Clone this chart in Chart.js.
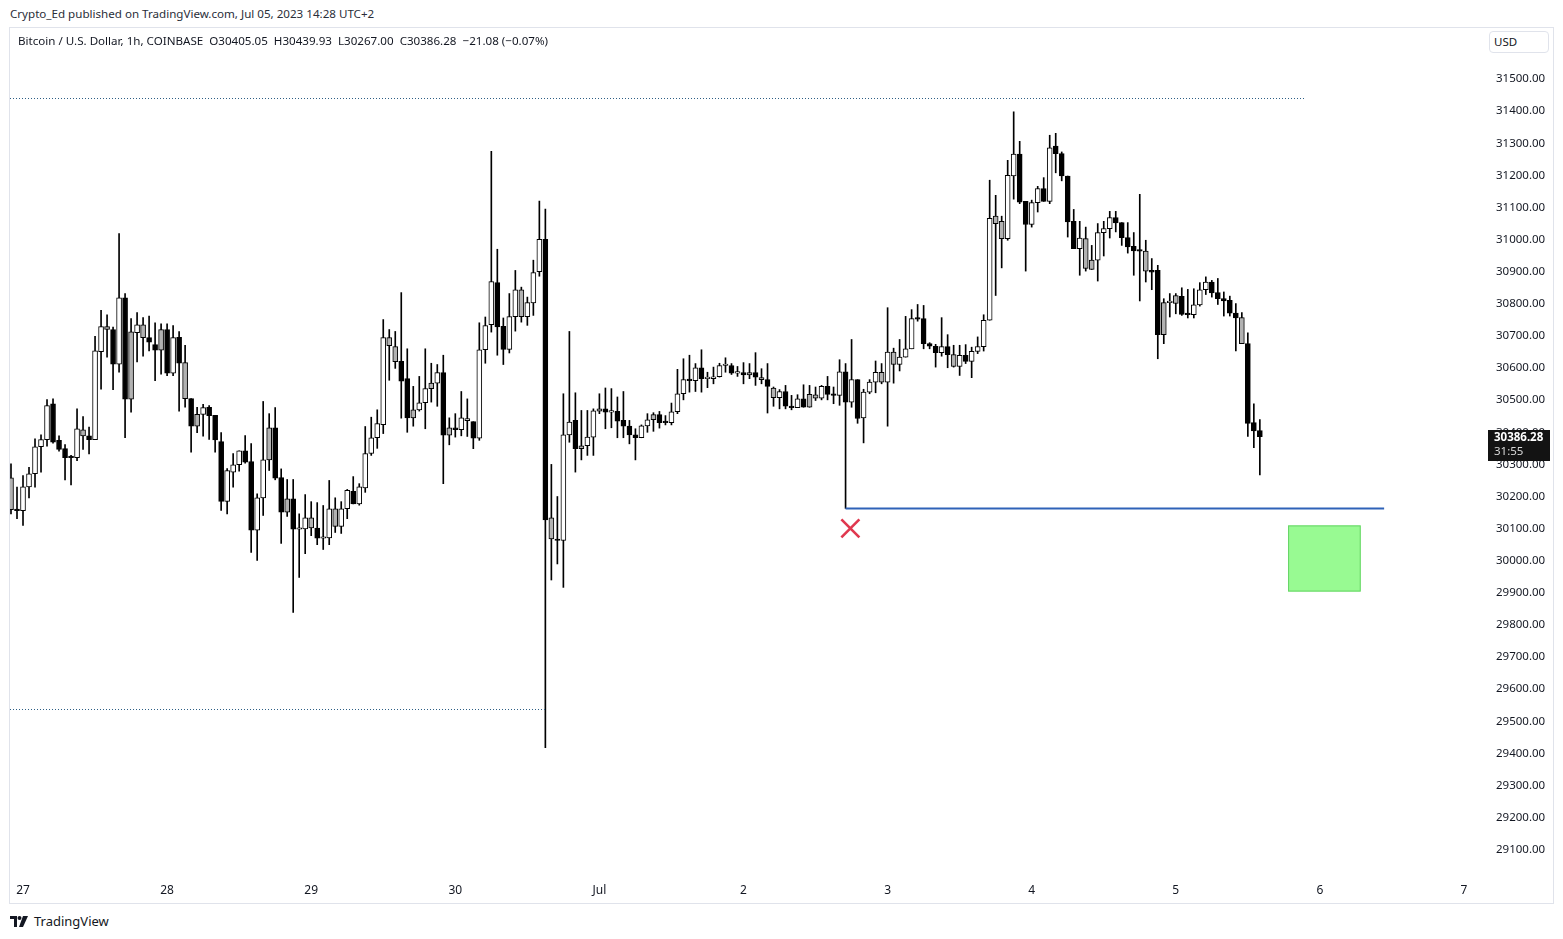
<!DOCTYPE html>
<html>
<head>
<meta charset="utf-8">
<title>BTCUSD 1h</title>
<script src="https://cdn.jsdelivr.net/npm/chart.js@4.4.0/dist/chart.umd.min.js"></script>
<style>
  html, body { margin: 0; padding: 0; background: #fff; }
  body { width: 1563px; height: 939px; position: relative; overflow: hidden; font-family: "Noto Sans", sans-serif; color: #131722; }
  #published { position: absolute; left: 10px; top: 6px; font-size: 11.6px; color: #2a2e39; white-space: nowrap; }
  #frame { position: absolute; left: 9px; top: 27px; width: 1545px; height: 877px; border: 1px solid #e0e3eb; box-sizing: border-box; }
  #chartBox { position: absolute; left: 10px; top: 28px; width: 1543px; height: 875px; }
  #legend { position: absolute; left: 18px; top: 33px; font-size: 11.6px; white-space: pre; color: #131722; }
  #usd { position: absolute; left: 1489px; top: 31px; width: 60px; height: 22px; border: 1px solid #e0e3eb; border-radius: 4px; box-sizing: border-box; font-size: 11.5px; line-height: 20px; padding-left: 4px; background: #fff; }
  #brand { position: absolute; left: 10px; top: 911px; height: 20px; display: flex; align-items: center; font-size: 13px; color: #131722; }
  #brand svg { margin-right: 5px; }
</style>
</head>
<body>
<div id="published">Crypto_Ed published on TradingView.com, Jul 05, 2023 14:28 UTC+2</div>
<div id="frame"></div>
<div id="chartBox"><canvas id="btcChart"></canvas></div>
<div id="legend">Bitcoin / U.S. Dollar, 1h, COINBASE  O30405.05  H30439.93  L30267.00  C30386.28  −21.08 (−0.07%)</div>
<div id="usd">USD</div>
<div id="brand">
  <svg width="19" height="11" viewBox="0 0 19 11"><path d="M0 0h7v11H4V3H0z" fill="#131722"/><circle cx="9.5" cy="2" r="2" fill="#131722"/><path d="M13 0h5l-5 11H9z" fill="#131722"/></svg>
  TradingView
</div>
<script>
// hourly candles, hour 0 = Jun 27 00:00
const firstHour = -2;
const open = [
  30258, 30159, 30156, 30230, 30271, 30355, 30377, 30489, 30375, 30349, 30322, 30321, 30408, 30389,
  30377, 30651, 30729, 30720, 30612, 30819, 30503, 30710, 30735, 30695, 30673, 30656,
  30720, 30584, 30696, 30617, 30505, 30419, 30456, 30478, 30453, 30371, 30185, 30276, 30299, 30342,
  30309, 30095, 30196, 30314, 30414, 30259, 30151, 30193, 30098, 30099, 30134, 30102,
  30070, 30071, 30162, 30107, 30162, 30216, 30177, 30227, 30334, 30383, 30424, 30695, 30667, 30621,
  30567, 30445, 30470, 30492, 30536, 30553, 30586, 30391, 30414, 30408, 30436, 30433,
  30382, 30657, 30735, 30866, 30730, 30658, 30760, 30844, 30760, 30803, 30900, 31001, 30134, 30066,
  30063, 30392, 30437, 30349, 30358, 30385, 30466, 30473, 30463, 30465, 30437, 30419,
  30392, 30383, 30420, 30439, 30455, 30434, 30430, 30464, 30520, 30564, 30561, 30601, 30567, 30567,
  30573, 30608, 30608, 30584, 30586, 30579, 30586, 30570, 30564, 30538, 30508, 30527,
  30481, 30477, 30504, 30478, 30517, 30506, 30543, 30520, 30515, 30588, 30494, 30564, 30445, 30525,
  30556, 30587, 30556, 30650, 30611, 30634, 30660, 30757, 30754, 30676, 30668, 30648,
  30667, 30642, 30605, 30640, 30621, 30652, 30667, 30749, 31073, 31057, 31003, 31198, 31266, 31119,
  31047, 31115, 31159, 31119, 31291, 31268, 31198, 31057, 30972, 31003, 30907, 30936,
  31022, 31034, 31069, 31053, 31006, 30979, 30967, 30964, 30904, 30904, 30704, 30804, 30801, 30823,
  30771, 30766, 30797, 30844, 30868, 30835, 30816, 30811, 30771, 30757, 30676, 30430, 30405.05
];
const high = [
  30302, 30229, 30265, 30291, 30380, 30392, 30502, 30504, 30389, 30362, 30328, 30473, 30449, 30416,
  30699, 30780, 30766, 30728, 31019, 30832, 30754, 30773, 30757, 30762, 30741, 30738,
  30738, 30732, 30714, 30671, 30505, 30478, 30487, 30483, 30453, 30399, 30287, 30334, 30342, 30390,
  30365, 30208, 30496, 30458, 30477, 30286, 30253, 30253, 30146, 30206, 30184, 30181,
  30172, 30250, 30196, 30184, 30222, 30262, 30240, 30418, 30447, 30470, 30751, 30720, 30714, 30835,
  30660, 30543, 30574, 30660, 30615, 30611, 30640, 30445, 30458, 30527, 30504, 30433,
  30741, 30759, 31275, 30970, 30756, 30832, 30904, 30852, 30821, 30936, 31120, 31095, 30300, 30200,
  30520, 30714, 30523, 30468, 30468, 30473, 30520, 30538, 30536, 30510, 30527, 30437,
  30411, 30423, 30458, 30461, 30465, 30452, 30491, 30596, 30629, 30640, 30614, 30657, 30587, 30603,
  30615, 30632, 30614, 30605, 30617, 30614, 30648, 30598, 30614, 30541, 30533, 30546,
  30515, 30517, 30548, 30546, 30541, 30546, 30574, 30541, 30626, 30614, 30689, 30564, 30534, 30564,
  30622, 30614, 30788, 30662, 30689, 30761, 30782, 30798, 30795, 30679, 30674, 30757,
  30704, 30671, 30671, 30673, 30665, 30697, 30766, 31185, 31138, 31073, 31247, 31398, 31306, 31119,
  31123, 31166, 31193, 31325, 31331, 31273, 31198, 31094, 31057, 31039, 30982, 31050,
  31057, 31088, 31088, 31053, 31053, 31022, 31141, 30998, 30941, 30920, 30816, 30832, 30832, 30850,
  30845, 30847, 30866, 30884, 30873, 30879, 30837, 30824, 30801, 30773, 30710, 30489, 30439.93
];
const low = [
  30146, 30131, 30110, 30196, 30229, 30276, 30357, 30366, 30341, 30252, 30236, 30312, 30347, 30333,
  30377, 30534, 30634, 30533, 30587, 30383, 30463, 30619, 30637, 30653, 30561, 30581,
  30576, 30576, 30466, 30478, 30338, 30399, 30388, 30378, 30338, 30157, 30146, 30229, 30279, 30304,
  30026, 30001, 30141, 30281, 30252, 30054, 30138, 29839, 29948, 30022, 30078, 30050,
  30035, 30050, 30088, 30085, 30131, 30177, 30173, 30213, 30328, 30350, 30396, 30562, 30599, 30444,
  30400, 30419, 30466, 30411, 30494, 30481, 30240, 30361, 30385, 30389, 30387, 30349,
  30375, 30615, 30712, 30640, 30611, 30647, 30715, 30743, 30733, 30764, 30886, 29418, 29940, 29990,
  29917, 30369, 30276, 30314, 30328, 30328, 30458, 30411, 30414, 30383, 30383, 30364,
  30314, 30383, 30400, 30403, 30413, 30423, 30423, 30458, 30501, 30525, 30527, 30525, 30539, 30551,
  30572, 30587, 30580, 30574, 30551, 30567, 30546, 30551, 30460, 30481, 30473, 30473,
  30470, 30477, 30478, 30478, 30499, 30501, 30501, 30489, 30484, 30163, 30478, 30428, 30367, 30520,
  30523, 30551, 30419, 30553, 30591, 30634, 30660, 30746, 30660, 30660, 30603, 30637,
  30601, 30603, 30577, 30614, 30570, 30645, 30653, 30749, 30826, 30912, 30998, 31126, 31112, 30902,
  31039, 31086, 31119, 31112, 31208, 31183, 31008, 30972, 30889, 30902, 30907, 30871,
  30949, 31005, 31024, 30982, 30958, 30889, 30809, 30868, 30844, 30629, 30676, 30759, 30769, 30764,
  30756, 30756, 30793, 30829, 30821, 30798, 30762, 30762, 30653, 30676, 30387, 30352, 30267.00
];
const close = [
  30159, 30156, 30230, 30271, 30355, 30377, 30483, 30369, 30347, 30321, 30321, 30411, 30389, 30377,
  30654, 30729, 30720, 30612, 30819, 30503, 30713, 30735, 30695, 30681, 30656, 30720,
  30584, 30695, 30615, 30505, 30419, 30456, 30477, 30452, 30376, 30185, 30281, 30299, 30342, 30307,
  30095, 30196, 30314, 30414, 30257, 30151, 30193, 30098, 30099, 30134, 30102, 30070,
  30071, 30162, 30107, 30162, 30219, 30177, 30230, 30334, 30383, 30427, 30695, 30670, 30620, 30559,
  30445, 30470, 30492, 30536, 30553, 30586, 30391, 30414, 30408, 30445, 30443, 30382,
  30657, 30732, 30869, 30728, 30658, 30760, 30844, 30760, 30804, 30897, 31001, 30127, 30068, 30063,
  30392, 30432, 30349, 30358, 30385, 30467, 30473, 30463, 30465, 30435, 30419, 30392,
  30383, 30420, 30439, 30455, 30430, 30430, 30464, 30520, 30564, 30561, 30601, 30567, 30568, 30573,
  30608, 30611, 30584, 30584, 30579, 30586, 30572, 30564, 30543, 30508, 30527, 30481,
  30477, 30504, 30478, 30518, 30506, 30543, 30518, 30515, 30588, 30494, 30564, 30443, 30525, 30556,
  30587, 30556, 30650, 30611, 30634, 30660, 30754, 30752, 30676, 30668, 30648, 30667,
  30642, 30605, 30640, 30621, 30652, 30667, 30749, 31066, 31050, 31003, 31200, 31266, 31117, 31047,
  31115, 31159, 31119, 31286, 31268, 31198, 31055, 30972, 31005, 30910, 30936, 31022,
  31034, 31069, 31052, 31006, 30977, 30965, 30964, 30902, 30899, 30704, 30804, 30805, 30826, 30767,
  30766, 30797, 30844, 30868, 30834, 30816, 30809, 30771, 30756, 30676, 30428, 30404, 30386.28
];
// candles drawn with the grey fill
const greyHours = [-2, 10, 14, 18, 20, 23, 27, 29, 41, 44, 48, 52, 61, 62, 65, 68, 71, 83, 88, 93, 96,
  105, 121, 123, 125, 131, 132, 143, 145, 155, 162, 163, 177, 178, 187, 190, 192, 203];

const dayLabels = ['27', '28', '29', '30', 'Jul', '2', '3', '4', '5', '6', '7'];
const priceTicks = [29100, 29200, 29300, 29400, 29500, 29600, 29700, 29800, 29900, 30000, 30100, 30200,
  30300, 30400, 30500, 30600, 30700, 30800, 30900, 31000, 31100, 31200, 31300, 31400, 31500];

// drawings
const resistance = 31440;
const rangeLow = 29539;
const supportLevel = 30163;
const supportFrom = 137, supportTo = 226.7;
const crossAt = [137.8, 30101];
const zoneHours = [210.7, 222.8];
const zonePrices = [30110, 29904];
const countdown = '31:55';

const hours = open.map((_, i) => firstHour + i);
const bodyColor = hours.map((h, i) => {
  if (greyHours.includes(h)) return '#b2b2b2';
  return close[i] >= open[i] ? '#ffffff' : '#000000';
});

const drawings = {
  id: 'drawings',
  afterDatasetsDraw(chart) {
    const { ctx, chartArea, scales: { x, y } } = chart;
    ctx.save();
    // dotted levels
    ctx.setLineDash([1, 2]);
    ctx.strokeStyle = '#2e5f85';
    ctx.lineWidth = 1;
    let py = Math.round(y.getPixelForValue(resistance)) + 0.5;
    ctx.beginPath();
    ctx.moveTo(chartArea.left, py);
    ctx.lineTo(x.getPixelForValue(213.5), py);
    ctx.stroke();
    py = Math.round(y.getPixelForValue(rangeLow)) + 0.5;
    ctx.beginPath();
    ctx.moveTo(chartArea.left, py);
    ctx.lineTo(x.getPixelForValue(87), py);
    ctx.stroke();
    ctx.setLineDash([]);

    // support line
    ctx.strokeStyle = '#2f62b8';
    ctx.lineWidth = 2;
    py = y.getPixelForValue(supportLevel);
    ctx.beginPath();
    ctx.moveTo(x.getPixelForValue(supportFrom), py);
    ctx.lineTo(x.getPixelForValue(supportTo), py);
    ctx.stroke();

    // target zone
    const zx1 = x.getPixelForValue(zoneHours[0]), zx2 = x.getPixelForValue(zoneHours[1]);
    const zy1 = y.getPixelForValue(zonePrices[0]), zy2 = y.getPixelForValue(zonePrices[1]);
    ctx.fillStyle = '#98fa92';
    ctx.fillRect(zx1, zy1, zx2 - zx1, zy2 - zy1);
    ctx.strokeStyle = '#66d466';
    ctx.lineWidth = 1;
    ctx.strokeRect(zx1 + 0.5, zy1 + 0.5, zx2 - zx1 - 1, zy2 - zy1 - 1);

    // red cross
    const cx = x.getPixelForValue(crossAt[0]), cy = y.getPixelForValue(crossAt[1]);
    ctx.strokeStyle = '#e0384f';
    ctx.lineWidth = 2.6;
    ctx.beginPath();
    ctx.moveTo(cx - 9, cy - 9); ctx.lineTo(cx + 9, cy + 9);
    ctx.moveTo(cx + 9, cy - 9); ctx.lineTo(cx - 9, cy + 9);
    ctx.stroke();
    ctx.restore();
  },
  afterDraw(chart) {
    // last price tag on the price scale
    const { ctx, chartArea, scales: { y } } = chart;
    const last = close[close.length - 1];
    const py = Math.round(y.getPixelForValue(last));
    const left = chartArea.right + 3;
    ctx.save();
    ctx.fillStyle = '#131313';
    ctx.fillRect(left, py - 7, 62, 31);
    ctx.fillStyle = '#ffffff';
    ctx.font = 'bold 11.5px "Noto Sans"';
    ctx.textBaseline = 'middle';
    ctx.fillText(last.toFixed(2), left + 6, py + 1);
    ctx.fillStyle = '#d8d8d8';
    ctx.font = '11.5px "Noto Sans"';
    ctx.fillText(countdown, left + 6, py + 15);
    ctx.restore();
  }
};

new Chart(document.getElementById('btcChart'), {
  type: 'bar',
  data: {
    datasets: [
      {
        label: 'body',
        data: hours.map((h, i) => ({ x: h, y: [open[i], close[i]] })),
        backgroundColor: bodyColor,
        borderColor: '#000000',
        borderWidth: 1,
        borderSkipped: false,
        barThickness: 5,
        minBarLength: 1.5,
        grouped: false,
        order: 0
      },
      {
        label: 'wick',
        data: hours.map((h, i) => ({ x: h, y: [low[i], high[i]] })),
        backgroundColor: '#000000',
        borderWidth: 0,
        barThickness: 1,
        grouped: false,
        order: 1
      }
    ]
  },
  options: {
    responsive: true,
    maintainAspectRatio: false,
    animation: false,
    events: [],
    layout: { padding: 0 },
    plugins: { legend: { display: false }, tooltip: { enabled: false } },
    scales: {
      x: {
        type: 'linear',
        offset: false,
        min: -13 / 6,
        max: 243.5,
        grid: { display: false, drawTicks: false, tickLength: 0 },
        border: { display: false },
        afterBuildTicks: s => { s.ticks = dayLabels.map((_, i) => ({ value: i * 24 })); },
        afterFit: s => { s.height = 25; s.paddingLeft = 0; s.paddingRight = 0; },
        ticks: {
          autoSkip: false,
          maxRotation: 0,
          padding: 5,
          color: '#131722',
          font: { family: 'Noto Sans', size: 12 },
          callback: v => dayLabels[Math.round(v / 24)]
        }
      },
      y: {
        position: 'right',
        min: 29012,
        max: 31659,
        grid: { display: false, drawTicks: false, tickLength: 0 },
        border: { display: false },
        afterBuildTicks: s => { s.ticks = priceTicks.map(v => ({ value: v })); },
        afterFit: s => { s.width = 68; s.paddingTop = 0; s.paddingBottom = 0; },
        ticks: {
          padding: 11,
          color: '#131722',
          font: { family: 'Noto Sans', size: 11.5 },
          callback: v => v.toFixed(2)
        }
      }
    }
  },
  plugins: [drawings]
});
</script>
</body>
</html>
